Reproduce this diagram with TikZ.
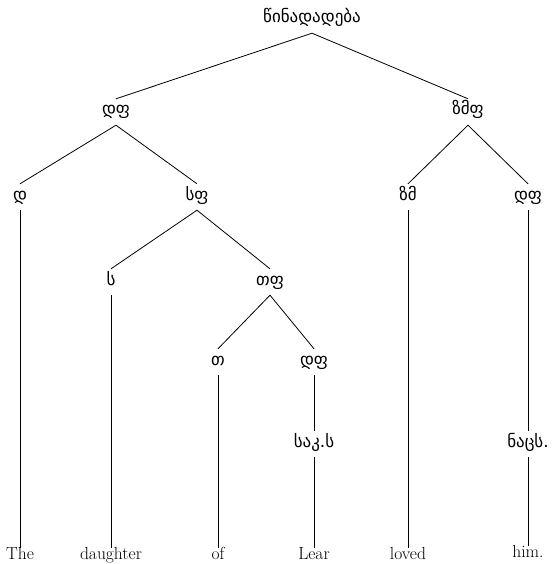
\documentclass[tikz,border=0pt]{standalone}
\usepackage{fontspec}
\newfontfamily\geofont{DejaVu Sans}
\usetikzlibrary{positioning}
\tikzset{geo/.style={font=\geofont\fontsize{17}{19}\selectfont, text height=.8em, text depth=.2em,
		inner xsep=2pt, inner ysep=8pt},
	wrd/.style={font=\fontsize{17.5}{19}\selectfont, anchor=base, text height=.68em, text depth=.2em,
		inner xsep=2pt, inner ysep=4pt},
	br/.style={line width=.8pt}}
\begin{document}
\begin{tikzpicture}[x=1pt, y=-1pt]
			\useasboundingbox (0, 0) rectangle (557, 564);
			\node [geo] (root) at (312, 20) {წინადადება};
			\node [geo] (dfa) at (116, 112) {დფ};
			\node [geo] (zmf) at (468, 112) {ზმფ};
			\node [geo] (d) at (20, 197) {დ};
			\node [geo] (sf) at (197, 197) {სფ};
			\node [geo] (zm) at (408, 197) {ზმ};
			\node [geo] (dfb) at (528, 197) {დფ};
			\node [geo] (s) at (111, 282) {ს};
			\node [geo] (tf) at (270, 282) {თფ};
			\node [geo] (t) at (218, 362) {თ};
			\node [geo] (dfc) at (314, 362) {დფ};
			\node [geo] (sak) at (314, 444) {საკ.ს};
			\node [geo] (nacs) at (528, 444) {ნაცს.};
			\node [wrd] (the) at (20, 559) {The};
			\node [wrd] (daughter) at (111, 559) {daughter};
			\node [wrd] (of) at (218, 559) {of};
			\node [wrd] (lear) at (314, 559) {Lear};
			\node [wrd] (loved) at (408, 559) {loved};
			\node [wrd] (him) at (528, 557) {him.};
			\draw [br] (dfa.north)--(root.south)--(zmf.north);
			\draw [br] (d.north)--(dfa.south)--(sf.north);
			\draw [br] (zm.north)--(zmf.south)--(dfb.north);
			\draw [br] (s.north)--(sf.south)--(tf.north);
			\draw [br] (t.north)--(tf.south)--(dfc.north);
			\draw [br] (d)--(the);
			\draw [br] (s)--(daughter);
			\draw [br] (t)--(of);
			\draw [br] (dfc)--(sak)--(lear);
			\draw [br] (zm)--(loved);
			\draw [br] (dfb)--(nacs)--(him);
		\end{tikzpicture}
\end{document}
